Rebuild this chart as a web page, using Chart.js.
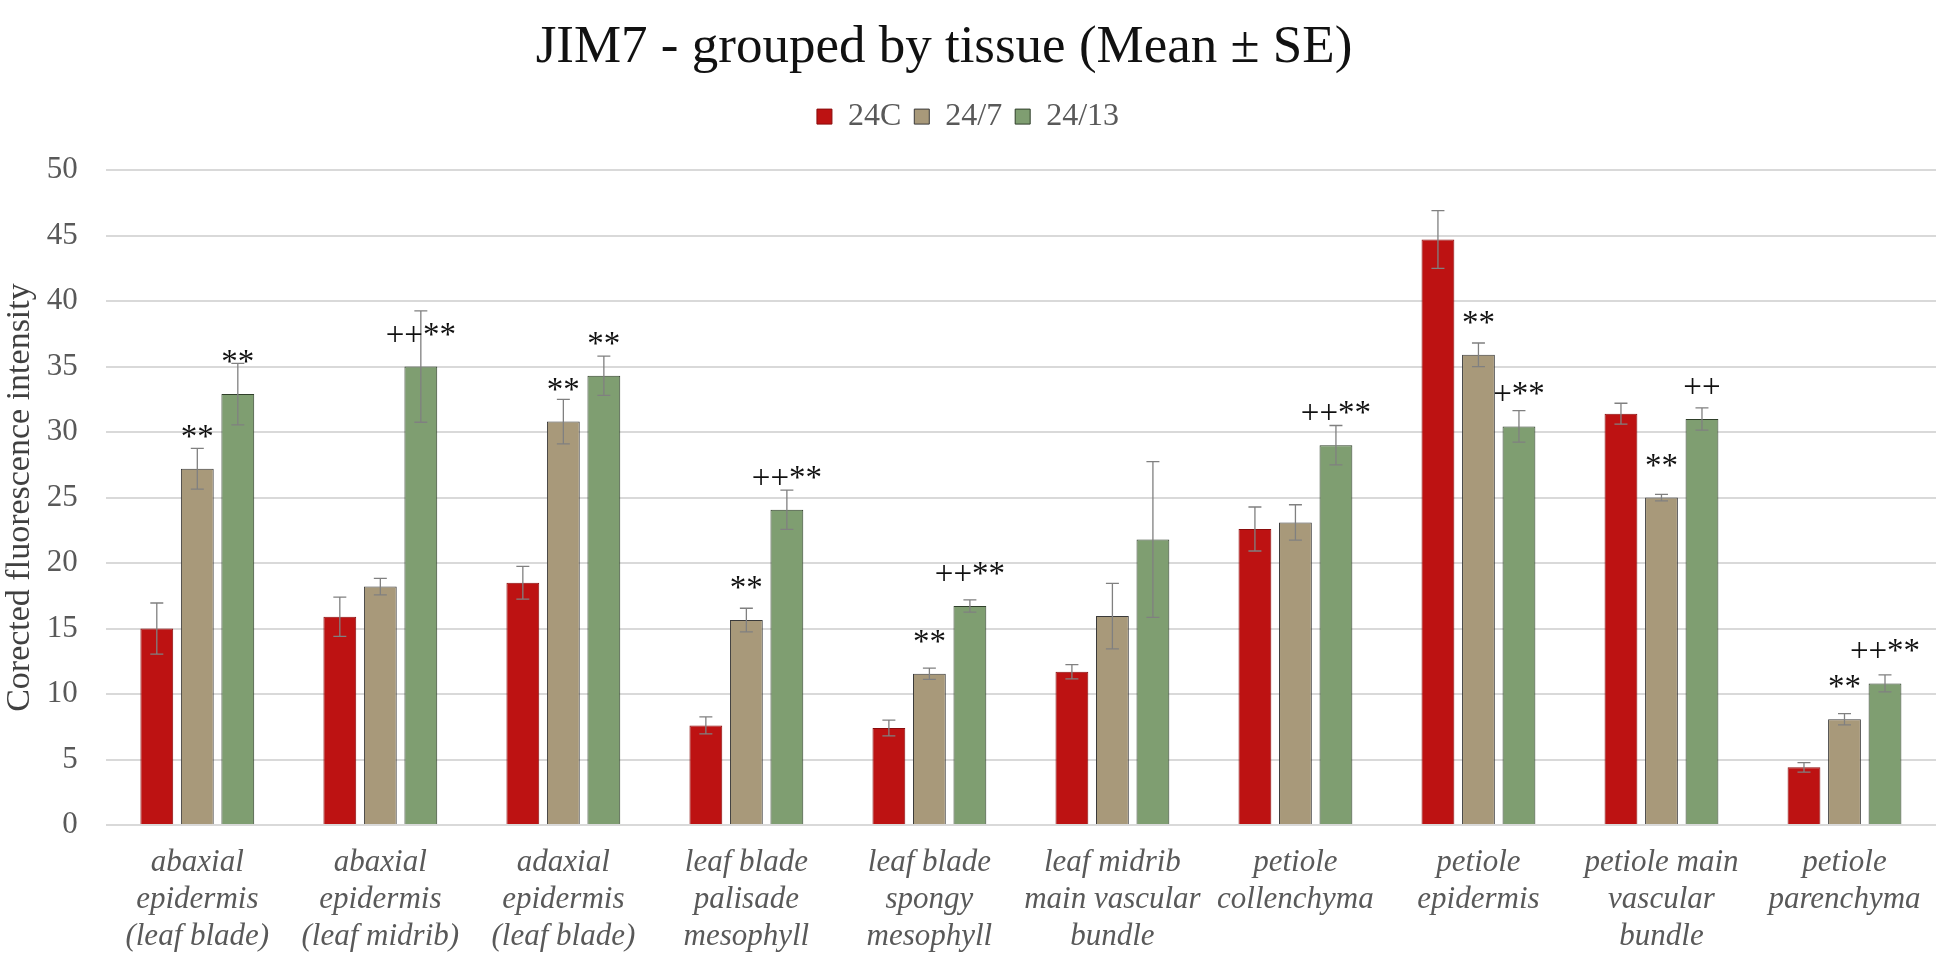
<!DOCTYPE html>
<html>
<head>
<meta charset="utf-8">
<title>JIM7 - grouped by tissue</title>
<script src="https://cdn.jsdelivr.net/npm/chart.js@4.4.1/dist/chart.umd.min.js"></script>
<style>
    html, body { margin: 0; padding: 0; background: #ffffff; }
    #wrap { width: 1949px; height: 956px; }
</style>
</head>
<body>
<div id="wrap"><canvas id="jimChart"></canvas></div>
<script>
'use strict';

var tissues = [
    ['abaxial', 'epidermis', '(leaf blade)'],
    ['abaxial', 'epidermis', '(leaf midrib)'],
    ['adaxial', 'epidermis', '(leaf blade)'],
    ['leaf blade', 'palisade', 'mesophyll'],
    ['leaf blade', 'spongy', 'mesophyll'],
    ['leaf midrib', 'main vascular', 'bundle'],
    ['petiole', 'collenchyma'],
    ['petiole', 'epidermis'],
    ['petiole main', 'vascular', 'bundle'],
    ['petiole', 'parenchyma']
];
var seriesNames = ['24C', '24/7', '24/13'];

var mean24C = [15.0, 15.9, 18.5, 7.6, 7.4, 11.7, 22.6, 44.7, 31.4, 4.4];
var se24C = [1.95, 1.5, 1.25, 0.65, 0.6, 0.55, 1.68, 2.2, 0.8, 0.36];
var mean247 = [27.2, 18.2, 30.8, 15.65, 11.55, 15.95, 23.1, 35.9, 25.0, 8.07];
var se247 = [1.55, 0.63, 1.7, 0.9, 0.43, 2.5, 1.35, 0.9, 0.25, 0.43];
var mean2413 = [32.9, 35.0, 34.3, 24.07, 16.72, 21.8, 29.0, 30.43, 31.0, 10.81];
var se2413 = [2.35, 4.25, 1.5, 1.5, 0.47, 5.95, 1.5, 1.2, 0.85, 0.65];

// significance marks drawn above the bars
var marks24C = ['', '', '', '', '', '', '', '', '', ''];
var marks247 = ['**', '', '**', '**', '**', '', '', '**', '**', '**'];
var marks2413 = ['**', '++**', '**', '++**', '++**', '', '++**', '+**', '++', '++**'];

var yTicks = [0, 5, 10, 15, 20, 25, 30, 35, 40, 45, 50];

var serif = "'Liberation Serif', 'Times New Roman', serif";

// error bars and significance marks
var errorBarPlugin = {
    id: 'errorBars',
    afterDatasetsDraw: function (chart) {
        var ctx = chart.ctx;
        var yScale = chart.scales.y;
        ctx.save();
        chart.data.datasets.forEach(function (ds, i) {
            var meta = chart.getDatasetMeta(i);
            meta.data.forEach(function (bar, j) {
                var v = ds.data[j];
                var se = ds.errors[j];
                var yTop = yScale.getPixelForValue(v + se);
                var yBot = yScale.getPixelForValue(v - se);
                ctx.strokeStyle = '#808080';
                ctx.lineWidth = 1.3;
                ctx.beginPath();
                ctx.moveTo(bar.x, yTop);
                ctx.lineTo(bar.x, yBot);
                ctx.moveTo(bar.x - 6.5, yTop);
                ctx.lineTo(bar.x + 6.5, yTop);
                ctx.moveTo(bar.x - 6.5, yBot);
                ctx.lineTo(bar.x + 6.5, yBot);
                ctx.stroke();

                var mark = ds.marks[j];
                if (mark) {
                    ctx.fillStyle = '#111111';
                    ctx.font = '33px ' + serif;
                    ctx.textAlign = 'center';
                    ctx.textBaseline = 'alphabetic';
                    ctx.fillText(mark, bar.x, yScale.getPixelForValue(v) - 22);
                }
            });
        });
        ctx.restore();
    }
};

// extra room under the legend, title nudged left like the original
var layoutTweaks = {
    id: 'layoutTweaks',
    beforeInit: function (chart) {
        var fit = chart.legend.fit;
        chart.legend.fit = function () {
            fit.bind(chart.legend)();
            this.height += 27.5;
        };
    },
    afterLayout: function (chart) {
        chart.titleBlock.right -= 48;
    }
};

var ctx = document.getElementById('jimChart').getContext('2d');
var chart = new Chart(ctx, {
    type: 'bar',
    data: {
        labels: tissues,
        datasets: [{
            label: seriesNames[0],
            data: mean24C,
            errors: se24C,
            marks: marks24C,
            backgroundColor: '#BD1212',
            borderColor: '#8a0c0c',
            borderWidth: 1
        },
        {
            label: seriesNames[1],
            data: mean247,
            errors: se247,
            marks: marks247,
            backgroundColor: '#A8997A',
            borderColor: '#3a3a3a',
            borderWidth: 1
        },
        {
            label: seriesNames[2],
            data: mean2413,
            errors: se2413,
            marks: marks2413,
            backgroundColor: '#7F9E71',
            borderColor: '#2f3f2a',
            borderWidth: 1
        }]
    },
    options: {
        responsive: true,
        maintainAspectRatio: false,
        animation: false,
        devicePixelRatio: 1,
        layout: {
            padding: { top: 10, right: 13, bottom: -18.6, left: 0 }
        },
        datasets: {
            bar: {
                barPercentage: 0.81,
                categoryPercentage: 0.664
            }
        },
        scales: {
            x: {
                grid: { display: false, drawTicks: false },
                border: { display: false },
                ticks: {
                    color: '#595959',
                    padding: 19,
                    maxRotation: 0,
                    autoSkip: false,
                    font: { family: serif, size: 31, style: 'italic', lineHeight: 1.2 }
                }
            },
            y: {
                min: 0,
                max: 50,
                afterBuildTicks: function (axis) {
                    axis.ticks = yTicks.map(function (v) { return { value: v }; });
                },
                grid: {
                    color: '#d9d9d9',
                    lineWidth: 2,
                    drawTicks: false
                },
                border: { display: false },
                ticks: {
                    color: '#595959',
                    padding: 28,
                    font: { family: serif, size: 31 }
                },
                title: {
                    display: true,
                    text: 'Corected fluorescence intensity',
                    color: '#404040',
                    padding: { top: 0, bottom: -22 },
                    font: { family: serif, size: 34 }
                }
            }
        },
        plugins: {
            title: {
                display: true,
                text: 'JIM7 - grouped by tissue (Mean \u00b1 SE)',
                color: '#111111',
                padding: { top: 6, bottom: 8 },
                font: { family: serif, size: 53, weight: 'normal' }
            },
            legend: {
                display: true,
                position: 'top',
                labels: {
                    color: '#595959',
                    boxWidth: 15,
                    boxHeight: 15,
                    padding: 13,
                    font: { family: serif, size: 32 }
                }
            },
            tooltip: { enabled: false }
        }
    },
    plugins: [errorBarPlugin, layoutTweaks]
});
</script>
</body>
</html>
